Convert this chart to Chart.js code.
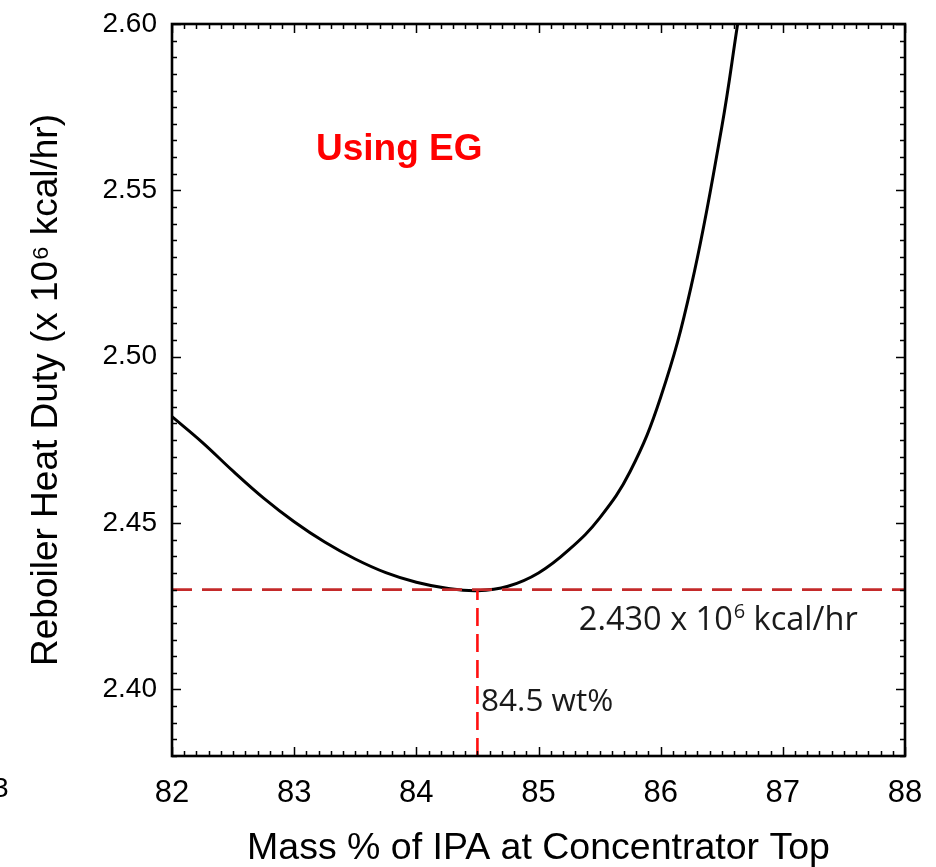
<!DOCTYPE html>
<html>
<head>
<meta charset="utf-8">
<script src="https://cdn.jsdelivr.net/npm/chart.js@4/dist/chart.umd.min.js"></script>
<style>
  html, body { margin: 0; padding: 0; background: #ffffff; }
  #wrap { position: relative; width: 936px; height: 867px; }
</style>
</head>
<body>
<div id="wrap"><canvas id="c" width="936" height="867"></canvas></div>
<script>
// ---- data ----
const massPercent = [82.0, 82.25, 82.5, 82.75, 83.0, 83.25, 83.5, 83.75, 84.0, 84.25, 84.5, 84.75, 85.0, 85.25, 85.5, 85.75, 86.0, 86.25, 86.5, 86.63];
const heatDuty    = [2.4820, 2.4742, 2.4656, 2.4575, 2.4504, 2.4443, 2.4392, 2.4351, 2.4322, 2.4304, 2.4297, 2.4310, 2.4350, 2.4420, 2.4515, 2.4655, 2.4878, 2.5212, 2.5690, 2.6000];
const optimumMass = 84.5;
const optimumDuty = 2.430;
const xTickValues = [82, 83, 84, 85, 86, 87, 88];
const yTickValues = [2.40, 2.45, 2.50, 2.55, 2.60];
const xRange = [82, 88];
const yRange = [2.38, 2.60];
const xTitle = 'Mass % of IPA at Concentrator Top';
const yTitle = 'Reboiler Heat Duty (x 10\u2076 kcal/hr)';
const caseLabel = 'Using EG';
const dutyLabel = ['2.430 x 10', '6', ' kcal/hr'];
const massLabel = '84.5 wt%';

const curve = massPercent.map((x, i) => ({ x: x, y: heatDuty[i] }));
const hLine = [{ x: xRange[0], y: optimumDuty }, { x: xRange[1], y: optimumDuty }];
const vLine = [{ x: optimumMass, y: yRange[0] }, { x: optimumMass, y: optimumDuty }];

function noScalePadding(s) {
  s.paddingTop = 0; s.paddingBottom = 0; s.paddingLeft = 0; s.paddingRight = 0;
}

const framePlugin = {
  id: 'frame',
  afterDatasetsDraw(chart) {
    const { ctx, chartArea: a, scales } = chart;
    const xs = scales.x, ys = scales.y;
    ctx.save();
    ctx.strokeStyle = '#000';
    // minor / major tick marks pointing inward on all four sides
    ctx.lineWidth = 1.5;
    ctx.beginPath();
    for (let i = 0; i <= 60; i++) {
      const v = xRange[0] + i / 10;
      const px = Math.round(xs.getPixelForValue(v)) + 0.5;
      const len = (i % 10 === 0) ? 9 : 5;
      ctx.moveTo(px, a.bottom); ctx.lineTo(px, a.bottom - len);
      ctx.moveTo(px, a.top); ctx.lineTo(px, a.top + len);
    }
    for (let i = 0; i <= 44; i++) {
      const v = yRange[0] + i * 0.005;
      const py = Math.round(ys.getPixelForValue(v)) + 0.5;
      const len = ((i - 4) % 10 === 0) ? 9 : 5;
      ctx.moveTo(a.left, py); ctx.lineTo(a.left + len, py);
      ctx.moveTo(a.right, py); ctx.lineTo(a.right - len, py);
    }
    ctx.stroke();
    ctx.lineWidth = 2.6;
    ctx.strokeRect(a.left, a.top, a.right - a.left, a.bottom - a.top);

    // annotations
    ctx.fillStyle = '#ff0000';
    ctx.font = 'bold 37px "Liberation Sans", Arial, sans-serif';
    ctx.textAlign = 'center';
    ctx.textBaseline = 'alphabetic';
    ctx.fillText(caseLabel, xs.getPixelForValue(83.86), ys.getPixelForValue(2.5590));

    ctx.fillStyle = '#1a1a1a';
    ctx.textAlign = 'left';
    let tx = xs.getPixelForValue(85.33);
    const ty = ys.getPixelForValue(2.418);
    ctx.font = '32.5px "Open Sans", sans-serif';
    ctx.fillText(dutyLabel[0], tx, ty);
    tx += ctx.measureText(dutyLabel[0]).width + 1;
    ctx.font = '20px "Open Sans", sans-serif';
    ctx.fillText(dutyLabel[1], tx, ty - 12);
    tx += ctx.measureText(dutyLabel[1]).width;
    ctx.font = '32.5px "Open Sans", sans-serif';
    ctx.fillText(dutyLabel[2], tx, ty);

    ctx.font = '31.5px "Open Sans", sans-serif';
    ctx.fillText(massLabel, xs.getPixelForValue(84.53), ys.getPixelForValue(2.3936));

    // stray clipped glyph at the left edge of the reference
    ctx.font = '28px "Liberation Sans", Arial, sans-serif';
    ctx.fillStyle = '#000';
    ctx.fillText('3', -7, 797);
    ctx.restore();
  }
};

new Chart(document.getElementById('c'), {
  type: 'scatter',
  data: {
    datasets: [
      { data: curve, showLine: true, borderColor: '#000', borderWidth: 3, pointRadius: 0,
        tension: 0.4, fill: false, order: 1 },
      { data: hLine, showLine: true, borderColor: '#c42a2a', borderWidth: 2.6, borderDash: [20, 10],
        pointRadius: 0, fill: false, order: 0 },
      { data: vLine, showLine: true, borderColor: '#ff1010', borderWidth: 2.6, borderDash: [18, 8],
        pointRadius: 0, fill: false, order: 0 }
    ]
  },
  options: {
    responsive: false,
    animation: false,
    devicePixelRatio: 1,
    layout: { padding: { left: 0, top: 24, right: 31, bottom: 0 } },
    plugins: { legend: { display: false }, tooltip: { enabled: false } },
    scales: {
      x: {
        type: 'linear', min: xRange[0], max: xRange[1],
        afterBuildTicks: s => { s.ticks = xTickValues.map(v => ({ value: v })); },
        afterFit: s => { s.height = 111; noScalePadding(s); },
        grid: { display: false, drawTicks: false },
        border: { display: false },
        ticks: { color: '#000', padding: 19, maxRotation: 0, autoSkip: false,
                 font: { family: '"Liberation Sans", Arial, sans-serif', size: 31 },
                 callback: v => String(v) },
        title: { display: true, text: xTitle, color: '#000',
                 font: { family: '"Liberation Sans", Arial, sans-serif', size: 37.5, lineHeight: 1 },
                 padding: { top: 0, bottom: 0 } }
      },
      y: {
        type: 'linear', min: yRange[0], max: yRange[1],
        afterBuildTicks: s => { s.ticks = yTickValues.map(v => ({ value: v })); },
        afterFit: s => { s.width = 172; noScalePadding(s); },
        grid: { display: false, drawTicks: false },
        border: { display: false },
        ticks: { color: '#000', padding: 15, autoSkip: false,
                 font: { family: '"Liberation Sans", Arial, sans-serif', size: 28 },
                 callback: v => Number(v).toFixed(2) },
        title: { display: true, text: yTitle, color: '#000',
                 font: { family: '"Liberation Sans", Arial, sans-serif', size: 37, lineHeight: 1 },
                 padding: { top: 28, bottom: 0 } }
      }
    }
  },
  plugins: [framePlugin]
});
</script>
</body>
</html>
